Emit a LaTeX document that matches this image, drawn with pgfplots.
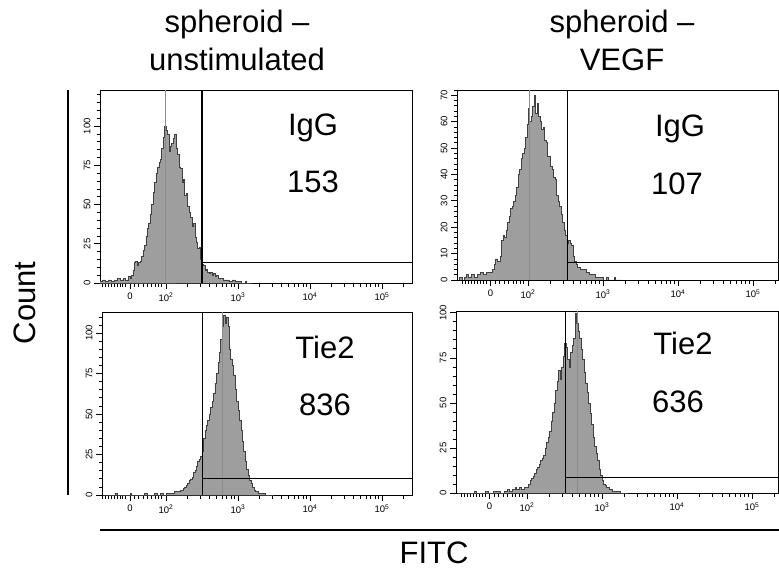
\documentclass[border=0pt]{standalone}
\usepackage{fontspec}
\setmainfont{Liberation Sans}
\usepackage{pgfplots}
\usepackage{pgfplotstable}
\pgfplotsset{compat=1.18}

\pgfplotstableread{
u c
1.08 1
1.12 2
1.16 1
1.20 2
1.24 1
1.28 2
1.32 3
1.36 2
1.40 3
1.44 2
1.48 4
1.50 3
1.52 5
1.54 8
1.56 13
1.58 14
1.60 11
1.62 13
1.64 14
1.66 17
1.68 21
1.70 24
1.72 30
1.74 35
1.76 38
1.78 44
1.80 50
1.82 58
1.84 64
1.86 70
1.88 74
1.90 77
1.92 79
1.94 86
1.96 93
1.98 100
2.00 97
2.02 95
2.04 84
2.06 87
2.08 89
2.10 92
2.12 95
2.14 86
2.16 82
2.18 74
2.20 73
2.22 64
2.24 66
2.26 56
2.28 57
2.30 49
2.32 45
2.34 42
2.36 36
2.38 38
2.40 29
2.42 26
2.44 22
2.46 23
2.48 15
2.50 12
2.52 11
2.54 8
2.56 9
2.58 7
2.60 6
2.62 7
2.64 5
2.66 6
2.68 4
2.70 5
2.72 3
2.76 3
2.80 2
2.84 2
2.88 1
2.92 2
2.96 1
3.00 1
3.04 0
3.10 1
3.12 0
3.20 0
}\histA

\pgfplotstableread{
u c
1.08 1
1.12 0
1.15 1
1.18 2
1.21 1
1.24 2
1.28 1
1.32 2
1.36 3
1.40 2
1.44 3
1.47 3
1.50 3
1.53 4
1.55 6
1.57 8
1.59 7
1.61 7
1.63 9
1.65 15
1.67 17
1.69 16
1.71 19
1.73 22
1.75 24
1.77 27
1.79 28
1.81 30
1.83 32
1.85 35
1.87 40
1.89 42
1.91 46
1.93 48
1.95 50
1.97 54
1.99 59
2.01 65
2.02 60
2.04 62
2.06 66
2.08 70
2.10 63
2.12 67
2.14 62
2.16 60
2.18 57
2.20 58
2.22 53
2.24 52
2.26 47
2.28 47
2.30 43
2.32 42
2.34 39
2.36 38
2.38 32
2.40 30
2.42 28
2.44 25
2.46 22
2.48 19
2.50 17
2.52 14
2.54 15
2.56 14
2.58 13
2.60 9
2.62 7
2.64 6
2.66 5
2.70 4
2.74 4
2.78 3
2.82 2
2.86 2
2.90 1
2.94 1
3.00 0
3.05 1
3.07 0
3.15 1
3.17 0
3.25 0
}\histB

\pgfplotstableread{
u c
1.13 0
1.30 1
1.32 0
1.50 1
1.52 0
1.70 1
1.74 0
1.84 1
1.88 0
1.92 1
1.96 0
2.00 1
2.04 1
2.08 1
2.12 2
2.16 2
2.20 3
2.24 4
2.26 5
2.28 6
2.30 7
2.32 9
2.34 10
2.36 11
2.38 14
2.40 15
2.42 18
2.44 21
2.46 22
2.48 24
2.50 27
2.52 35
2.54 40
2.56 43
2.58 46
2.60 50
2.62 54
2.64 58
2.66 63
2.68 69
2.70 75
2.72 82
2.74 88
2.76 96
2.78 104
2.80 111
2.82 106
2.84 110
2.86 104
2.88 90
2.90 84
2.92 80
2.94 74
2.96 65
2.98 58
3.00 52
3.02 46
3.04 40
3.06 33
3.08 27
3.10 21
3.12 16
3.14 12
3.16 9
3.18 7
3.20 5
3.22 3
3.24 2
3.28 1
3.34 1
3.38 0
3.50 0
}\histC

\pgfplotstableread{
u c
1.08 0
1.30 1
1.32 0
1.45 1
1.48 0
1.55 1
1.60 1
1.64 0
1.70 1
1.74 2
1.76 1
1.80 2
1.84 3
1.86 2
1.90 3
1.92 2
1.96 3
2.00 3
2.02 5
2.04 7
2.06 8
2.08 9
2.10 11
2.12 13
2.14 14
2.16 16
2.18 18
2.20 19
2.22 21
2.24 25
2.26 28
2.28 31
2.30 34
2.32 40
2.34 45
2.36 50
2.38 57
2.40 62
2.42 68
2.44 63
2.46 70
2.48 76
2.50 83
2.52 81
2.54 74
2.56 70
2.58 78
2.60 82
2.62 86
2.64 100
2.66 94
2.68 90
2.70 86
2.72 80
2.74 74
2.76 67
2.78 61
2.80 56
2.82 50
2.84 44
2.86 38
2.88 31
2.90 26
2.92 22
2.94 18
2.96 13
2.98 10
3.00 7
3.02 5
3.04 4
3.06 3
3.10 2
3.14 1
3.20 1
3.24 0
3.35 0
}\histD

\pgfplotsset{flow/.style={
  scale only axis,
  axis line style={line width=0.9pt},
  tick align=outside, xtick pos=bottom, ytick pos=left,
  major tick length=6pt, minor tick length=3.5pt,
  every tick/.style={black, line width=0.7pt},
  ymin=0, clip=true,
  xtick={1.5,2,3,4,5},
  xticklabels={0,10\textsuperscript{2},10\textsuperscript{3},10\textsuperscript{4},10\textsuperscript{5}},
  minor xtick={1.12,1.16,1.20,1.24,1.28,1.32,1.36,1.40,1.44,1.56,1.62,1.68,1.74,1.80,1.85,1.90,1.94,
    2.301,2.477,2.602,2.699,2.778,2.845,2.903,2.954,
    3.301,3.477,3.602,3.699,3.778,3.845,3.903,3.954,
    4.301,4.477,4.602,4.699,4.778,4.845,4.903,4.954,5.301},
  /pgf/number format/assume math mode=true,
  ticklabel style={font=\fontsize{9.5}{10}\selectfont},
  yticklabel style={rotate=90, anchor=south},
  hist/.style={const plot, fill=black!38, draw=black!75, line width=0.6pt},
  gate/.style={black, line width=0.8pt},
  spike/.style={black!45, line width=0.5pt},
}}

\begin{document}
\begin{tikzpicture}
\path[use as bounding box] (0pt,0pt) rectangle (779pt,574pt);

% Panel 1
\begin{axis}[flow, at={(100pt,291pt)}, anchor=south west, width=312pt, height=193pt,
  xmin=1.083, xmax=5.417, ymax=123, ytick={0,25,50,75,100}, minor ytick={5,10,...,120}]
\addplot[hist] table[x=u,y=c] {\histA} \closedcycle;
\addplot[spike] coordinates {(1.99,0) (1.99,123)};
\addplot[gate, line width=1.2pt] coordinates {(2.5,0) (2.5,123)};
\addplot[gate] coordinates {(2.5,13.4) (5.417,13.4)};
\end{axis}

% Panel 2
\begin{axis}[flow, at={(457pt,294pt)}, anchor=south west, width=321pt, height=190pt,
  xmin=1.053, xmax=5.333, ymax=72, ytick={0,10,...,70}, minor ytick={2,4,...,72}]
\addplot[hist] table[x=u,y=c] {\histB} \closedcycle;
\addplot[spike] coordinates {(2.013,0) (2.013,72)};
\addplot[gate] coordinates {(2.52,0) (2.52,72)};
\addplot[gate] coordinates {(2.52,6.8) (5.333,6.8)};
\end{axis}

% Panel 3
\begin{axis}[flow, at={(102pt,79pt)}, anchor=south west, width=310pt, height=183pt,
  xmin=1.111, xmax=5.417, ymax=113, ytick={0,25,50,75,100}, minor ytick={5,10,...,110}]
\addplot[hist] table[x=u,y=c] {\histC} \closedcycle;
\addplot[spike] coordinates {(2.775,0) (2.775,113)};
\addplot[gate] coordinates {(2.51,0) (2.51,113)};
\addplot[gate] coordinates {(2.51,10.5) (5.417,10.5)};
\end{axis}

% Panel 4
\begin{axis}[flow, at={(456pt,81pt)}, anchor=south west, width=322pt, height=182pt,
  xmin=1.053, xmax=5.347, ymax=101, ytick={0,25,50,75,100}, minor ytick={5,10,...,100}]
\addplot[hist] table[x=u,y=c] {\histD} \closedcycle;
\addplot[spike] coordinates {(2.67,0) (2.67,101)};
\addplot[gate] coordinates {(2.51,0) (2.51,101)};
\addplot[gate] coordinates {(2.51,8.9) (5.347,8.9)};
\end{axis}

% frame lines
\draw[line width=1.3pt] (68pt,79pt) -- (68pt,484pt);
\draw[line width=1.3pt] (100pt,44pt) -- (779pt,44pt);

\begin{scope}[every node/.style={font=\fontsize{31}{37}\selectfont, inner sep=0pt}]
\node[anchor=base] at (237pt,541pt) {spheroid –};
\node[anchor=base] at (237pt,503pt) {unstimulated};
\node[anchor=base] at (622pt,541pt) {spheroid –};
\node[anchor=base] at (622pt,503pt) {VEGF};
\node[anchor=base, rotate=90] at (35pt,271pt) {Count};
\node[anchor=base] at (434pt,11pt) {FITC};
\node[anchor=base] at (313pt,438pt) {IgG};
\node[anchor=base] at (313pt,381pt) {153};
\node[anchor=base] at (680pt,437pt) {IgG};
\node[anchor=base] at (677pt,379pt) {107};
\node[anchor=base] at (325pt,216pt) {Tie2};
\node[anchor=base] at (325pt,159pt) {836};
\node[anchor=base] at (683pt,220pt) {Tie2};
\node[anchor=base] at (678pt,162pt) {636};
\end{scope}
\end{tikzpicture}
\end{document}
